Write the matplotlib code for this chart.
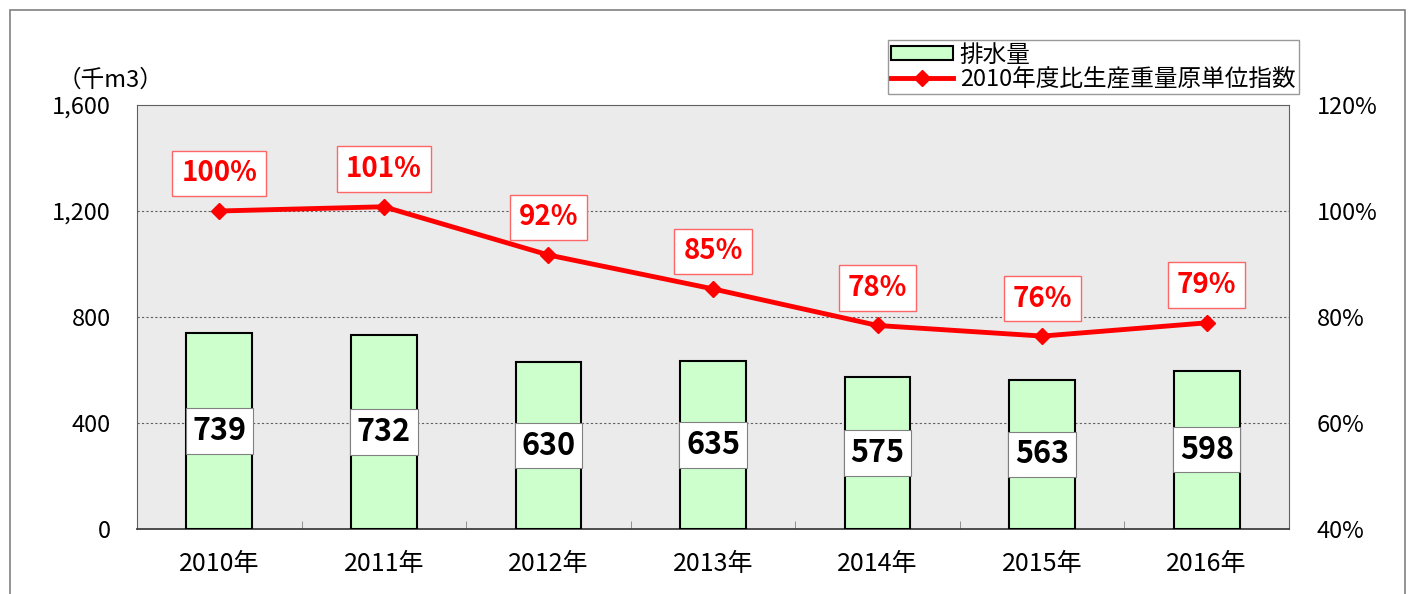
import matplotlib
matplotlib.use("Agg")
import matplotlib.pyplot as plt
from matplotlib.patches import Rectangle
from matplotlib.lines import Line2D
from matplotlib.patches import Patch
import numpy as np

plt.rcParams['font.family'] = ['Noto Sans CJK JP', 'DejaVu Sans']

years = ['2010年', '2011年', '2012年', '2013年', '2014年', '2015年', '2016年']
discharge = [739, 732, 630, 635, 575, 563, 598]
index_pct = [100, 101, 92, 85, 78, 76, 79]
index_plot = [100, 100.8, 91.7, 85.3, 78.4, 76.4, 78.9]
left_ticks = [0, 400, 800, 1200, 1600]
right_ticks = [40, 60, 80, 100, 120]

fig = plt.figure(figsize=(14.15, 5.94), dpi=100)
fig.patches.append(Rectangle((10/1415, -0.01), 1395/1415, 1 - 10/594 + 0.01,
                             transform=fig.transFigure, fill=False,
                             edgecolor='#808080', linewidth=1.2))

ax = fig.add_axes([137/1415, 1 - 529/594, (1289 - 137)/1415, (529 - 105)/594])
ax.set_facecolor('#ebebeb')
x = np.arange(len(years))
ax.bar(x, discharge, width=0.4, color='#ccffcc', edgecolor='black', linewidth=1.5, zorder=3)
ax.set_ylim(0, 1600)
ax.set_xlim(-0.5, len(years) - 0.5)
ax.set_yticks(left_ticks)
ax.set_yticklabels([f'{v:,}' for v in left_ticks], fontsize=17)
ax.set_xticks(x)
ax.set_xticklabels(years, fontsize=18)
ax.tick_params(axis='x', length=0, pad=16)
ax.tick_params(axis='y', length=0, pad=19)
ax.set_xticks(np.arange(len(years) - 1) + 0.5, minor=True)
ax.tick_params(axis='x', which='minor', direction='in', length=6, color='#808080')
for v in left_ticks[1:-1]:
    ax.axhline(v, color='#606060', linestyle=(0, (2, 2)), linewidth=0.8, zorder=1)
for s in ['left', 'top', 'right']:
    ax.spines[s].set_color('#606060')
ax.spines['bottom'].set_color('#404040')
ax.spines['bottom'].set_linewidth(1.3)

for xi, v in zip(x, discharge):
    ax.text(xi, v / 2, f'{v}', ha='center', va='center', fontsize=22, fontweight='bold',
            zorder=5,
            bbox=dict(boxstyle='square,pad=0.22', facecolor='white', edgecolor='#808080', linewidth=0.8))

ax2 = ax.twinx()
ax2.set_ylim(40, 120)
ax2.set_yticks(right_ticks)
ax2.set_yticklabels([f'{v}%' for v in right_ticks], fontsize=17)
ax2.tick_params(axis='y', length=0, pad=20)
for s in ['left', 'top', 'right', 'bottom']:
    ax2.spines[s].set_visible(False)
ax2.plot(x, index_plot, color='#ff0000', linewidth=3.5, marker='D', markersize=8, zorder=4)
for xi, v, p in zip(x, index_plot, index_pct):
    ax2.annotate(f'{p}%', (xi, v), xytext=(0, 27), textcoords='offset points',
                 ha='center', va='center', fontsize=20, fontweight='bold', color='#ff0000',
                 bbox=dict(boxstyle='square,pad=0.32', facecolor='white', edgecolor='#ff6666', linewidth=1))

fig.text(58/1415, 1 - 80/594, '（千m3）', fontsize=17, ha='left', va='center')

handles = [Patch(facecolor='#ccffcc', edgecolor='black', linewidth=1.5),
           Line2D([0], [0], color='#ff0000', linewidth=3.5, marker='D', markersize=8)]
leg = fig.legend(handles, ['排水量', '2010年度比生産重量原単位指数'], loc='upper right',
                 bbox_to_anchor=(1299/1415, 1 - 40/594), fontsize=17, frameon=True,
                 fancybox=False, edgecolor='#808080', borderpad=0.15, labelspacing=0.05,
                 handlelength=2.6, handleheight=0.5, handletextpad=0.3, borderaxespad=0)
leg.get_frame().set_linewidth(1)

fig.savefig('out.png', dpi=100)
